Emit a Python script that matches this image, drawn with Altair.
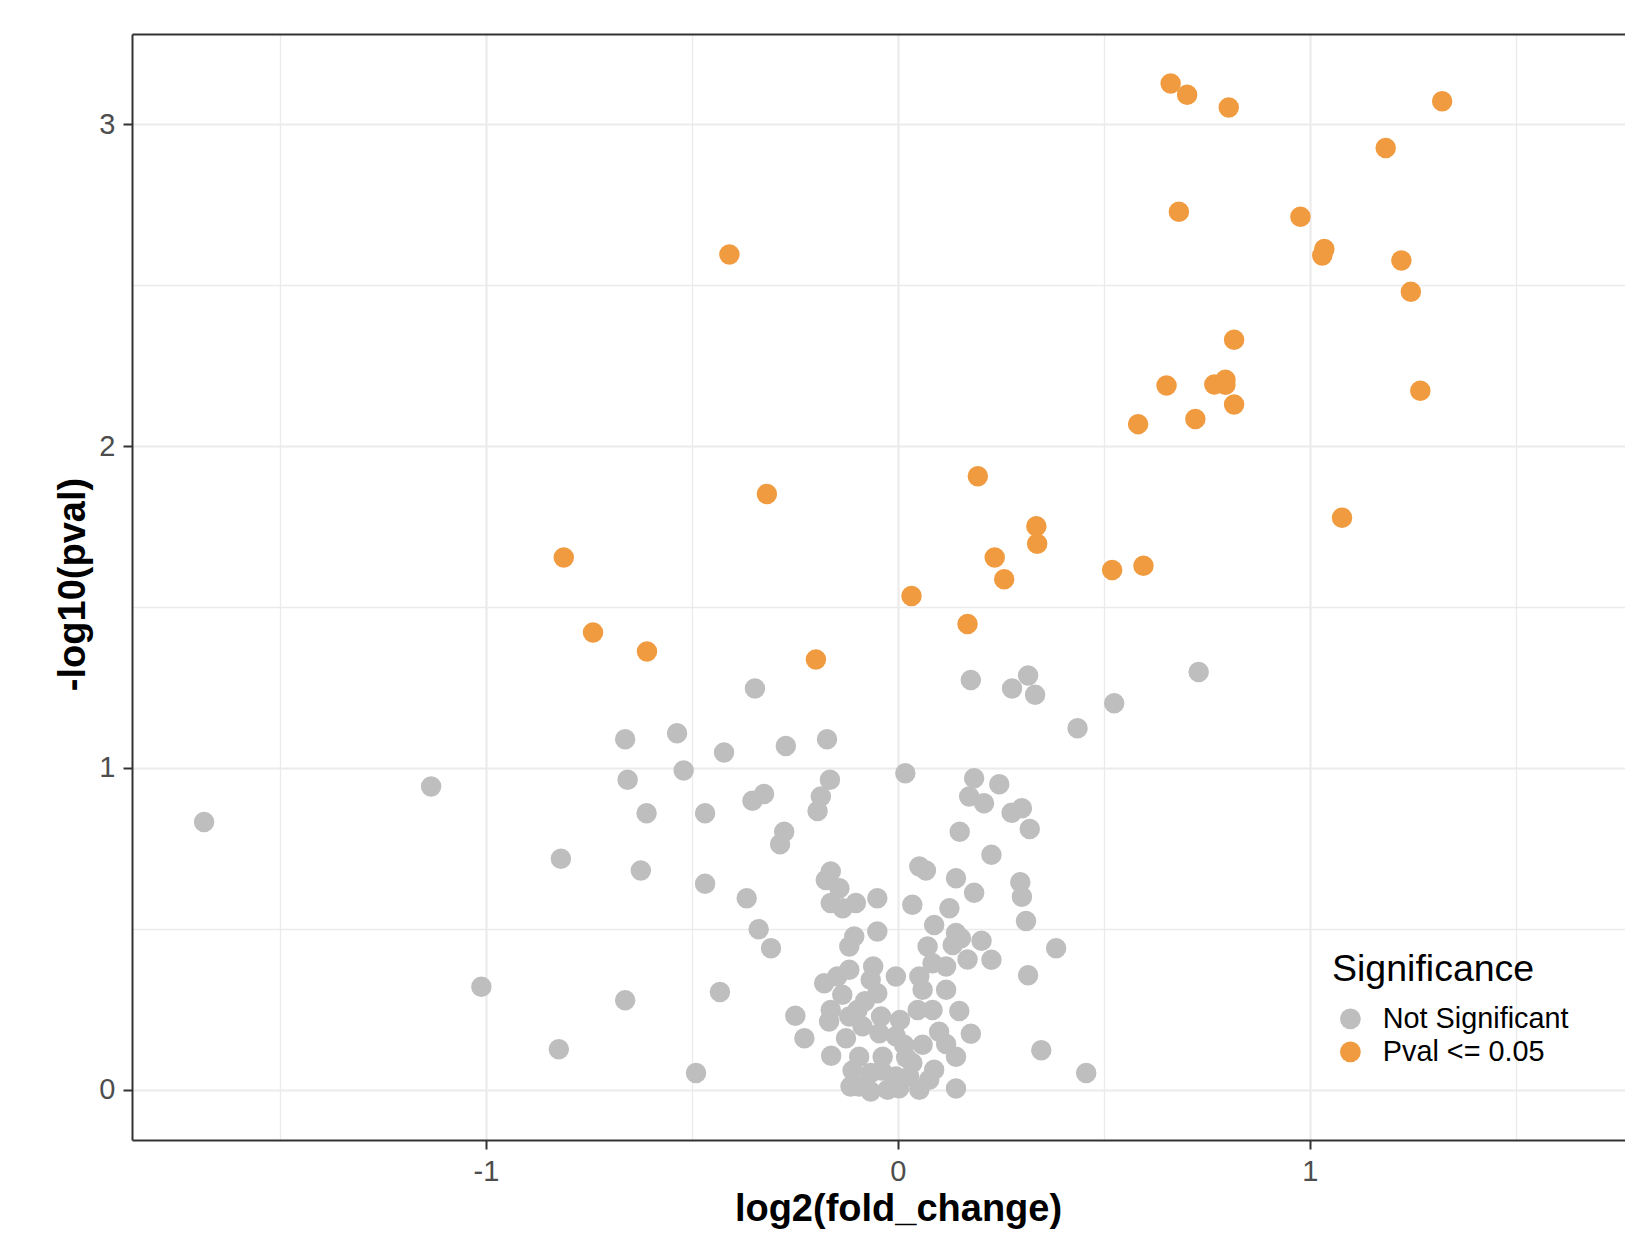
import altair as alt
import pandas as pd

# ---- data ----
sig_x = [0.662, 0.702, 0.803, 1.321, 1.184, 0.682, 0.977, 1.035, 1.030, 1.222,
         1.245, -0.409, 0.816, 0.652, 0.768, 0.795, 0.795, 0.816, 1.268, 0.583,
         0.722, 0.194, -0.318, 1.078, 0.336, 0.338, -0.811, 0.235, 0.258, 0.520,
         0.596, 0.033, -0.740, 0.169, -0.609, -0.199]
sig_y = [3.126, 3.091, 3.052, 3.071, 2.926, 2.728, 2.712, 2.612, 2.592, 2.576,
         2.479, 2.595, 2.330, 2.188, 2.191, 2.206, 2.190, 2.129, 2.172, 2.068,
         2.084, 1.906, 1.851, 1.777, 1.751, 1.696, 1.654, 1.654, 1.586, 1.615,
         1.628, 1.534, 1.421, 1.447, 1.362, 1.337]

grey_x = [
    -1.684, -1.133, -1.011, -0.823, -0.818, -0.662, -0.490, -0.432,
    -0.347, -0.662, -0.536, -0.422, -0.272, -0.172, -0.520, -0.656, -0.165, -0.353,
    -0.325, -0.187, -0.195, -0.610, -0.468, -0.276, -0.286, -0.624, -0.163, -0.175,
    -0.142, -0.163, -0.134, -0.102, -0.050, -0.468, -0.367, -0.050, -0.106, -0.118,
    -0.338, -0.308,
    0.177, 0.277, 0.316, 0.333, 0.436, 0.525, 0.730, 0.018, 0.185, 0.173,
    0.209, 0.246, 0.276, 0.301, 0.320, 0.150, 0.227, 0.052, 0.068, 0.141,
    0.297, 0.185, 0.301,
    0.311, 0.384, 0.316, 0.348, 0.457,
    -0.005, -0.060, -0.066, -0.050, -0.179, -0.147, -0.118, -0.163, -0.167, -0.118,
    -0.098, -0.249, -0.227, -0.162, -0.126, -0.086, -0.041, -0.045, -0.094, -0.094,
    -0.066, -0.037, -0.005, -0.025, -0.066, -0.005, 0.003, -0.135, -0.080, -0.110,
    -0.040, -0.115,
    0.035, 0.125, 0.088, 0.141, 0.072, 0.133, 0.153, 0.203, 0.227, 0.169,
    0.084, 0.052, 0.117, 0.117, 0.060, 0.048, 0.084, 0.149, 0.177, 0.117,
    0.141, 0.088, 0.076, 0.052, 0.027, 0.035, 0.141, 0.005, 0.015, 0.020,
    0.060, 0.100]
grey_y = [
    0.832, 0.942, 0.320, 0.126, 0.718, 0.278, 0.052, 0.304,
    1.247, 1.089, 1.108, 1.048, 1.068, 1.089, 0.992, 0.963, 0.963, 0.898,
    0.919, 0.911, 0.866, 0.859, 0.859, 0.802, 0.763, 0.681, 0.678, 0.652,
    0.626, 0.580, 0.564, 0.580, 0.595, 0.640, 0.595, 0.492, 0.476, 0.445,
    0.499, 0.440,
    1.273, 1.247, 1.287, 1.227, 1.123, 1.201, 1.298, 0.983, 0.968, 0.911,
    0.890, 0.949, 0.861, 0.875, 0.810, 0.802, 0.730, 0.694, 0.681, 0.657,
    0.645, 0.612, 0.600,
    0.524, 0.440, 0.356, 0.123, 0.052,
    0.352, 0.383, 0.342, 0.300, 0.331, 0.352, 0.373, 0.248, 0.212, 0.228,
    0.248, 0.230, 0.160, 0.106, 0.160, 0.197, 0.228, 0.176, 0.103, 0.010,
    0.052, 0.103, 0.166, 0.000, -0.005, 0.041, 0.005, 0.295, 0.275, 0.060,
    0.060, 0.010,
    0.575, 0.564, 0.512, 0.487, 0.445, 0.450, 0.471, 0.463, 0.404, 0.405,
    0.393, 0.352, 0.383, 0.311, 0.311, 0.248, 0.248, 0.245, 0.174, 0.142,
    0.103, 0.062, 0.031, 0.000, 0.041, 0.083, 0.004, 0.217, 0.140, 0.100,
    0.140, 0.180]

categories = ["Not Significant", "Pval <= 0.05"]
colors = ["#BEBEBE", "#F09B3F"]
x_ticks = [-1.5, -1, -0.5, 0, 0.5, 1, 1.5]
y_ticks = [0, 0.5, 1, 1.5, 2, 2.5, 3]
# panel is symmetric (-1.859..1.859); the picture is cut near the window's right edge
x_domain = [-1.859, 1.7648]
y_domain = [-0.156, 3.28]

df = pd.DataFrame({
    "fc": grey_x + sig_x,
    "nlp": grey_y + sig_y,
    "sig": [categories[0]] * len(grey_x) + [categories[1]] * len(sig_x),
})

FONT = "Liberation Sans"
FRAME = "#333333"
half = "datum.value % 1 !== 0"
common = dict(
    domain=True, domainColor=FRAME, domainWidth=2,
    grid=True, gridColor="#EBEBEB",
    gridWidth={"condition": {"test": half, "value": 1.3}, "value": 2.2},
    tickOpacity={"condition": {"test": half, "value": 0}, "value": 1},
    tickColor=FRAME, tickWidth=2, tickSize=9,
    labelColor="#4D4D4D", labelFont=FONT, labelFontSize=29, labelPadding=8,
    labelExpr="datum.value % 1 === 0 ? '' + datum.value : ''",
    titleFont=FONT, titleFontSize=38, titleFontWeight="bold", titleColor="#000000",
)
x_scale = alt.Scale(domain=x_domain, nice=False, zero=False)

points = alt.Chart(df).mark_circle(size=420, opacity=1).encode(
    x=alt.X("fc:Q", scale=x_scale,
            axis=alt.Axis(values=x_ticks, title="log2(fold_change)",
                          titleX=766, titleY=80, titleBaseline="alphabetic",
                          titleAlign="center", **common)),
    y=alt.Y("nlp:Q", scale=alt.Scale(domain=y_domain, nice=False, zero=False),
            axis=alt.Axis(values=y_ticks, title="-log10(pval)",
                          titleX=-48, titleY=550, titleBaseline="alphabetic",
                          titleAlign="center", titleAngle=270, **common)),
    color=alt.Color("sig:N", scale=alt.Scale(domain=categories, range=colors),
                    legend=alt.Legend(
                        orient="none", legendX=1200, legendY=917, padding=0,
                        title="Significance", titleFont=FONT, titleFontSize=37.5,
                        titleFontWeight="normal", titleColor="#000000", titlePadding=16,
                        titleLimit=600, labelLimit=600,
                        labelFont=FONT, labelFontSize=28.8, labelColor="#000000",
                        labelOffset=18, symbolType="circle", symbolSize=430,
                        symbolStrokeWidth=0, symbolOpacity=1, symbolOffset=4,
                        rowPadding=3)),
)

# top border of the panel, drawn as a bare top axis line
top_border = alt.Chart(df).mark_circle(opacity=0).encode(
    x=alt.X("fc:Q", scale=x_scale,
            axis=alt.Axis(orient="top", labels=False, ticks=False, grid=False,
                          domain=True, domainColor=FRAME, domainWidth=2, title=None)),
)

chart = alt.layer(points, top_border).resolve_axis(x="independent").properties(
    width=1493, height=1106,
    autosize=alt.AutoSizeParams(type="none"),
    padding={"left": 124, "top": 26, "right": 0, "bottom": 100},
).configure(background="white").configure_view(strokeWidth=0)

chart.save("out.html", embed_options={"renderer": "svg", "actions": False})
